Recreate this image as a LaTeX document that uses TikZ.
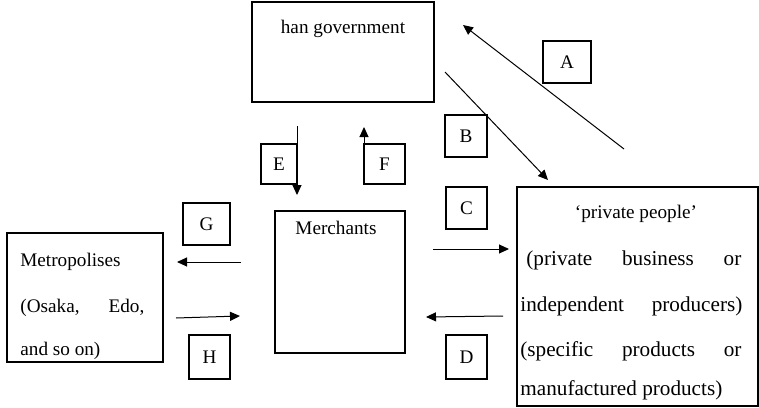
\documentclass[tikz,border=0pt]{standalone}
\usepackage{fontspec}
\setmainfont{Liberation Serif}
\usetikzlibrary{arrows.meta}
\begin{document}
\begin{tikzpicture}[x=0.5pt,y=-0.5pt,
  box/.style={draw, line width=0.75pt, inner sep=0pt, font=\fontsize{9.6}{11}\selectfont},
  txt/.style={inner sep=0pt, font=\fontsize{9.6}{11}\selectfont},
  ptxt/.style={inner sep=0pt, font=\fontsize{10.6}{12}\selectfont},
  arr/.style={line width=0.5pt, -{Triangle[length=5pt,width=4.5pt]}}]
\useasboundingbox (0,0) rectangle (759,407);
% big boxes
\node[box, minimum width=91pt, minimum height=50pt] (han) at (343,52) {};
\node[box, minimum width=65pt, minimum height=71pt] (mer) at (340,282) {};
\node[box, minimum width=78pt, minimum height=64.5pt] (met) at (85,297.5) {};
\node[box, minimum width=120.5pt, minimum height=109.5pt] (pri) at (637.5,296.5) {};
% texts
\node[txt, anchor=base] (hant) at (343,33) {han government};
\node[txt, anchor=base] (mert) at (336,234) {Merchants};
\node[txt, anchor=base west] (met1) at (20,266) {Metropolises};
\node[txt, anchor=base west] (met2) at (20,312) {\hbox to 62pt{(Osaka,\hfill Edo,}};
\node[txt, anchor=base west] (met3) at (20,355) {and so on)};
\node[txt, anchor=base] (pri1) at (636,218) {`private people'};
\node[ptxt, anchor=base west] (pri2) at (526,265) {\hbox to 107.5pt{(private\hfill business\hfill or}};
\node[ptxt, anchor=base west] (pri3) at (520,311) {\hbox to 111pt{independent\hfill producers)}};
\node[ptxt, anchor=base west] (pri4) at (520,356) {\hbox to 110.5pt{(specific\hfill products\hfill or}};
\node[ptxt, anchor=base west] (pri5) at (520,395) {manufactured products)};
% small label boxes
\node[box, minimum width=24pt, minimum height=21pt] (A) at (567,62) {A};
\node[box, minimum width=21pt, minimum height=21pt] (B) at (466,136) {B};
\node[box, minimum width=20.5pt, minimum height=21pt] (C) at (466.5,208) {C};
\node[box, minimum width=20.5pt, minimum height=22pt] (D) at (466.5,357) {D};
\node[box, minimum width=18pt, minimum height=20pt] (E) at (279,164) {E};
\node[box, minimum width=20.5pt, minimum height=20pt] (F) at (384.5,164) {F};
\node[box, minimum width=23.5pt, minimum height=21pt] (G) at (206.5,224) {G};
\node[box, minimum width=20.5pt, minimum height=22pt] (H) at (209.5,357) {H};
% arrow end points
\coordinate (a1) at (624,149); \coordinate (a2) at (463,25);
\coordinate (b1) at (445,72);  \coordinate (b2) at (548,180);
\coordinate (c1) at (433,249); \coordinate (c2) at (509,249);
\coordinate (d1) at (503,316); \coordinate (d2) at (426,317);
\coordinate (e1) at (297,126); \coordinate (e2) at (297,195);
\coordinate (f1) at (364,184); \coordinate (f2) at (364,127);
\coordinate (g1) at (241,262); \coordinate (g2) at (177,262);
\coordinate (h1) at (176,318); \coordinate (h2) at (240,316);
\draw[arr] (a1) -- (a2);
\draw[arr] (b1) -- (b2);
\draw[arr] (c1) -- (c2);
\draw[arr] (d1) -- (d2);
\draw[arr] (e1) -- (e2);
\draw[arr] (f1) -- (f2);
\draw[arr] (g1) -- (g2);
\draw[arr] (h1) -- (h2);
\end{tikzpicture}
\end{document}
